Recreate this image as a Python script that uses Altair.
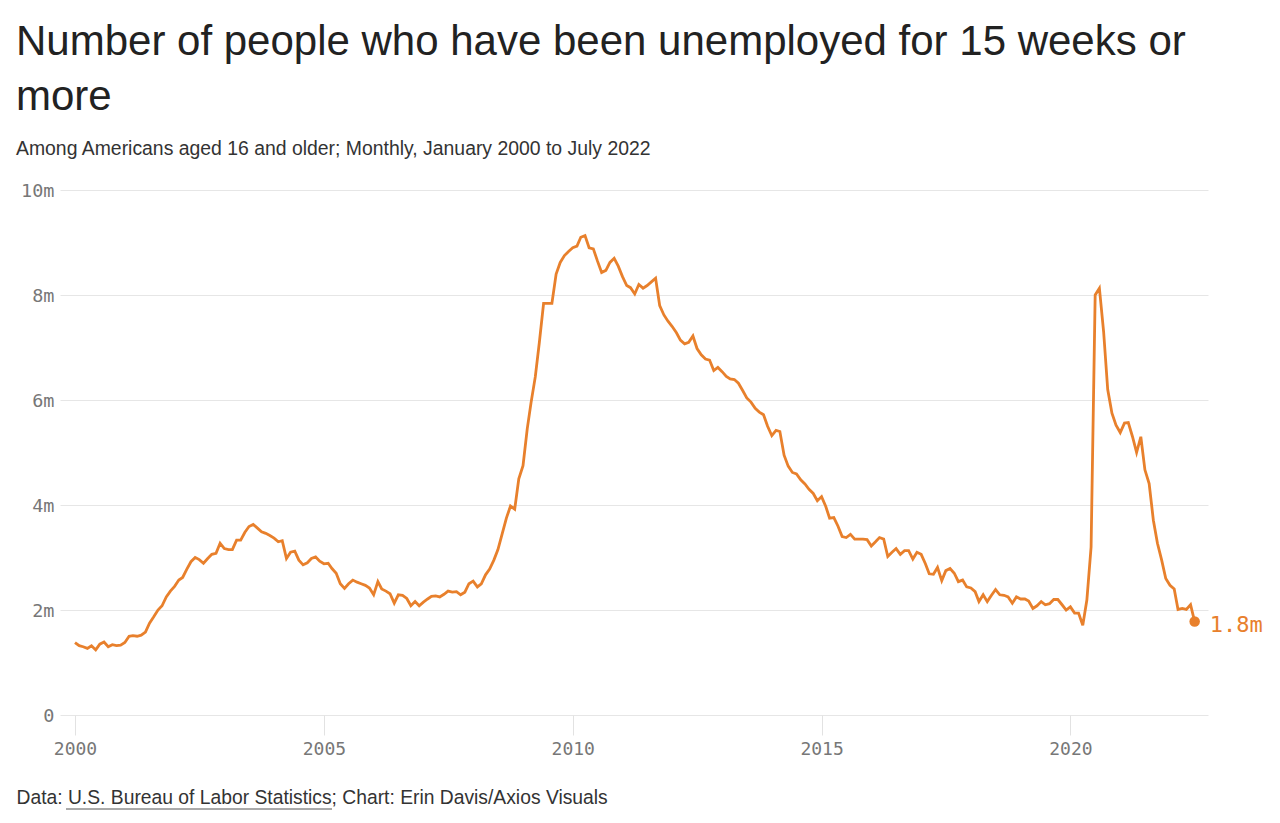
import altair as alt
import pandas as pd

# Monthly values, millions of people unemployed 15+ weeks
v2000 = [1.38, 1.32, 1.30, 1.27, 1.32, 1.24, 1.35, 1.39, 1.30, 1.34, 1.32, 1.33]
v2001 = [1.38, 1.50, 1.51, 1.50, 1.52, 1.58, 1.75, 1.87, 2.00, 2.08, 2.25, 2.36]
v2002 = [2.45, 2.57, 2.62, 2.78, 2.92, 3.00, 2.96, 2.89, 2.98, 3.06, 3.08, 3.27]
v2003 = [3.17, 3.15, 3.15, 3.33, 3.33, 3.48, 3.59, 3.63, 3.56, 3.49, 3.46, 3.42]
v2004 = [3.37, 3.30, 3.32, 2.98, 3.10, 3.12, 2.95, 2.86, 2.90, 2.98, 3.01, 2.93]
v2005 = [2.88, 2.89, 2.79, 2.70, 2.50, 2.41, 2.50, 2.57, 2.53, 2.50, 2.47, 2.42]
v2006 = [2.29, 2.54, 2.40, 2.36, 2.31, 2.13, 2.29, 2.28, 2.22, 2.08, 2.16, 2.08]
v2007 = [2.15, 2.21, 2.26, 2.27, 2.25, 2.30, 2.36, 2.34, 2.35, 2.29, 2.34, 2.50]
v2008 = [2.55, 2.44, 2.50, 2.67, 2.78, 2.95, 3.15, 3.45, 3.75, 3.98, 3.92, 4.50]
v2009 = [4.75, 5.45, 5.95, 6.44, 7.10, 7.84, 7.84, 7.84, 8.40, 8.62, 8.75, 8.83]
v2010 = [8.90, 8.93, 9.10, 9.13, 8.90, 8.88, 8.65, 8.43, 8.47, 8.62, 8.70, 8.55]
v2011 = [8.35, 8.18, 8.14, 8.02, 8.20, 8.13, 8.18, 8.25, 8.32, 7.80, 7.62, 7.50]
v2012 = [7.40, 7.28, 7.14, 7.07, 7.10, 7.22, 6.98, 6.86, 6.78, 6.76, 6.56, 6.62]
v2013 = [6.54, 6.45, 6.40, 6.39, 6.32, 6.18, 6.04, 5.96, 5.84, 5.77, 5.72, 5.50]
v2014 = [5.32, 5.42, 5.40, 4.95, 4.74, 4.62, 4.59, 4.48, 4.40, 4.30, 4.22, 4.08]
v2015 = [4.16, 3.97, 3.75, 3.76, 3.60, 3.40, 3.38, 3.44, 3.35, 3.35, 3.35, 3.34]
v2016 = [3.22, 3.30, 3.38, 3.35, 3.02, 3.10, 3.17, 3.06, 3.13, 3.13, 2.97, 3.10]
v2017 = [3.06, 2.88, 2.69, 2.68, 2.81, 2.56, 2.75, 2.79, 2.70, 2.54, 2.57, 2.44]
v2018 = [2.42, 2.35, 2.16, 2.29, 2.16, 2.28, 2.39, 2.29, 2.28, 2.25, 2.13, 2.25]
v2019 = [2.21, 2.21, 2.17, 2.03, 2.08, 2.16, 2.10, 2.12, 2.20, 2.20, 2.10, 2.00]
v2020 = [2.06, 1.94, 1.94, 1.71, 2.19, 3.20, 8.00, 8.13, 7.30, 6.20, 5.75, 5.52]
v2021 = [5.38, 5.56, 5.57, 5.30, 5.00, 5.30, 4.67, 4.41, 3.71, 3.27, 2.95, 2.60]
v2022 = [2.47, 2.40, 2.01, 2.03, 2.01, 2.10, 1.78]

values = (v2000 + v2001 + v2002 + v2003 + v2004 + v2005 + v2006 + v2007 + v2008
          + v2009 + v2010 + v2011 + v2012 + v2013 + v2014 + v2015 + v2016 + v2017
          + v2018 + v2019 + v2020 + v2021 + v2022)

year_ticks = [2000, 2005, 2010, 2015, 2020]
y_ticks = [0, 2, 4, 6, 8, 10]

title_lines = ["Number of people who have been unemployed for 15 weeks or", "more"]
subtitle = "Among Americans aged 16 and older; Monthly, January 2000 to July 2022"
footer = "Data: U.S. Bureau of Labor Statistics; Chart: Erin Davis/Axios Visuals"

dates = pd.date_range("2000-01-01", periods=len(values), freq="MS")
df = pd.DataFrame({"date": dates, "value": values})
last = df.tail(1).copy()
last["label"] = last["value"].map(lambda v: f"{v:.1f}m")

ORANGE = "#e8802c"
MONO = "DejaVu Sans Mono"
SANS = "Liberation Sans"

x_scale = alt.Scale(domain=[pd.Timestamp("1999-09-13").isoformat(),
                            pd.Timestamp("2022-10-07").isoformat()])
x_enc = alt.X(
    "date:T",
    scale=x_scale,
    axis=alt.Axis(
        values=[pd.Timestamp(f"{y}-01-01").isoformat() for y in year_ticks],
        format="%Y",
        grid=False,
        domain=False,
        ticks=True,
        tickSize=20,
        tickColor="#e2e2e2",
        tickWidth=1,
        labelFont=MONO,
        labelFontSize=18,
        labelColor="#777777",
        labelPadding=5,
        title=footer,
        titleFont=SANS,
        titleFontSize=19.3,
        titleFontWeight="normal",
        titleColor="#333333",
        titleAnchor="start",
        titleAlign="left",
        titleBaseline="middle",
        titleX=-44,
        titleY=82,
    ),
)
y_enc = alt.Y(
    "value:Q",
    scale=alt.Scale(domain=[0, 10]),
    axis=alt.Axis(
        values=y_ticks,
        labelExpr="datum.value == 0 ? '0' : datum.value + 'm'",
        grid=True,
        gridColor="#e6e6e6",
        gridWidth=1,
        domain=False,
        ticks=False,
        labelFont=MONO,
        labelFontSize=18.5,
        labelColor="#777777",
        labelPadding=6,
        title=None,
    ),
)

line = alt.Chart(df).mark_line(color=ORANGE, strokeWidth=2.8).encode(x=x_enc, y=y_enc)
dot = alt.Chart(last).mark_point(filled=True, color=ORANGE, size=110, opacity=1).encode(
    x="date:T", y="value:Q"
)
label = alt.Chart(last).mark_text(
    align="left", baseline="middle", dx=15, dy=3, font=MONO, fontSize=22, color=ORANGE
).encode(x="date:T", y="value:Q", text="label:N")
underline = alt.Chart(last).mark_rule(color="#555555", strokeWidth=1).encode(
    x=alt.value(6), x2=alt.value(272), y=alt.value(619)
)

chart = (
    alt.layer(line, dot, label, underline)
    .properties(
        width=1148,
        height=525,
        background="white",
        autosize=alt.AutoSizeParams(type="none"),
        padding={"left": 52, "top": 182, "right": 64, "bottom": 100},
        title=alt.TitleParams(
            text=title_lines,
            subtitle=subtitle,
            anchor="start",
            frame="group",
            dx=-44,
            offset=22,
            font=SANS,
            fontSize=42,
            fontWeight="normal",
            color="#222222",
            lineHeight=55,
            subtitleFont=SANS,
            subtitleFontSize=19.4,
            subtitleColor="#333333",
            subtitlePadding=21,
        ),
    )
    .configure_view(stroke=None, strokeWidth=0)
)

chart.save("out.html", embed_options={"renderer": "svg", "actions": False})
